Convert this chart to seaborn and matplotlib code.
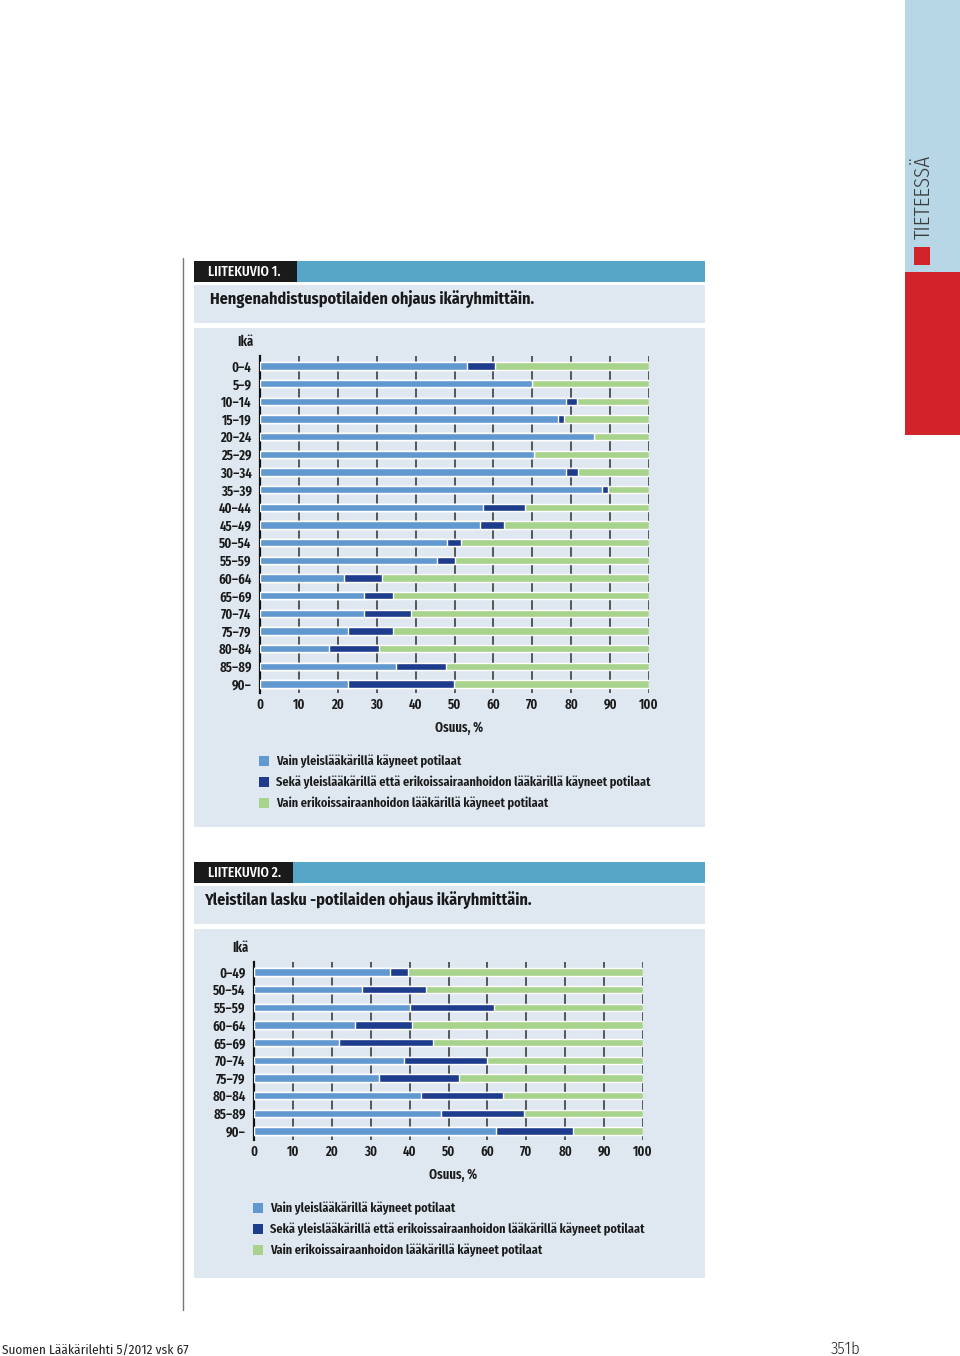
import matplotlib
matplotlib.use("Agg")
import matplotlib.pyplot as plt
import seaborn as sns
import pandas as pd
from matplotlib.patches import Rectangle
from matplotlib.lines import Line2D
from matplotlib import font_manager

sns.set_theme(style="white")

# ---------------- data ----------------
ages1 = ["0–4", "5–9", "10–14", "15–19", "20–24", "25–29", "30–34", "35–39",
         "40–44", "45–49", "50–54", "55–59", "60–64", "65–69", "70–74",
         "75–79", "80–84", "85–89", "90–"]
gp_only1 = [53.1, 70.0, 78.7, 76.6, 85.9, 70.4, 78.7, 87.9, 57.4, 56.6,
            48.1, 45.4, 21.6, 26.8, 26.7, 22.5, 17.7, 34.9, 22.5]
both1 = [7.3, 0.0, 2.9, 1.5, 0.0, 0.0, 3.0, 1.5, 10.7, 6.0,
         3.5, 4.6, 9.7, 7.4, 12.2, 11.8, 13.0, 12.9, 27.4]

ages2 = ["0–49", "50–54", "55–59", "60–64", "65–69", "70–74", "75–79",
         "80–84", "85–89", "90–"]
gp_only2 = [35.0, 27.7, 40.1, 25.9, 21.8, 38.5, 32.2, 42.9, 48.2, 62.2]
both2 = [4.7, 16.5, 21.7, 14.7, 24.1, 21.5, 20.4, 21.1, 21.1, 19.8]

series_labels = ["Vain yleislääkärillä käyneet potilaat",
                 "Sekä yleislääkärillä että erikoissairaanhoidon lääkärillä käyneet potilaat",
                 "Vain erikoissairaanhoidon lääkärillä käyneet potilaat"]
xticks = [0, 10, 20, 30, 40, 50, 60, 70, 80, 90, 100]

# ---------------- style ----------------
names = {f.name for f in font_manager.fontManager.ttflist}


def pick(*cands):
    for c in cands:
        if c in names:
            return c
    return "DejaVu Sans"


F_XC = pick("Fira Sans Extra Condensed", "Fira Sans Condensed", "Roboto Condensed")
F_C = pick("Fira Sans Condensed", "Roboto Condensed", "Fira Sans Extra Condensed")
plt.rcParams['font.family'] = [F_XC, 'DejaVu Sans']

C_LIGHT = "#6198d0"
C_DARK = "#1e3c8c"
C_GREEN = "#a8d38c"
C_PANEL = "#dfe8f1"
C_HEAD = "#57a6c8"
C_GRID = "#4a4a4a"
TEXT = "#1a1a1a"

FS_TICK = 10
FS_LEG = 9.7
FS_TITLE = 11.6

W, H = 960, 1356
fig = plt.figure(figsize=(W / 100, H / 100), dpi=100)
fig.patch.set_facecolor("white")


def fx(px):
    return px / W


def fy(py):
    return 1 - py / H


def rect(x0, y0, x1, y1, color):
    fig.add_artist(Rectangle((fx(x0), fy(y1)), fx(x1) - fx(x0), fy(y0) - fy(y1),
                             transform=fig.transFigure, facecolor=color,
                             edgecolor="none", zorder=0))


# right sidebar
rect(905, 0, 960, 272, "#b7d7e7")
rect(905, 272, 960, 435, "#d2232a")
rect(914, 247, 930, 265, "#d2232a")
fig.text(fx(923), fy(197), "TIETEESSÄ", rotation=90, ha="center", va="center",
         fontsize=16.5, color="#3a3a3a", family=[F_XC, "DejaVu Sans"], fontweight=300)

# left rule
fig.add_artist(Line2D([fx(183), fx(183)], [fy(258), fy(1310)],
                      transform=fig.transFigure, color="#777777", lw=1))

# footer
fig.text(fx(2), fy(1350), "Suomen Lääkärilehti 5/2012 vsk 67", ha="left", va="center",
         fontsize=9.5, color="#222222", family=[F_C, "DejaVu Sans"])
fig.text(fx(860), fy(1349), "351b", ha="right", va="center",
         fontsize=12, color="#222222", family=[F_C, "DejaVu Sans"], fontweight=300)


def panel(top, header, title, title_x, box_bottom, black_right):
    rect(194, top, 705, top + 21, C_HEAD)
    rect(194, top, black_right, top + 21, "#1a1a1a")
    fig.text(fx(208), fy(top + 11), header, ha="left", va="center",
             fontsize=10.6, color="white", fontweight=500)
    rect(194, top + 24, 705, top + 62, C_PANEL)
    fig.text(fx(title_x), fy(top + 38), title, ha="left", va="center",
             fontsize=FS_TITLE, fontweight="bold", color=TEXT,
             family=[F_C, "DejaVu Sans"])
    rect(194, top + 67, 705, box_bottom, C_PANEL)


def chart(ages, gp, both, left_px, top_px, first_row, last_row, bottom_px,
          xlabel_y, legend_y0, ika_y):
    n = len(ages)
    step = (last_row - first_row) / (n - 1)
    ax = fig.add_axes([fx(left_px), fy(bottom_px), fx(left_px + 389) - fx(left_px),
                       fy(top_px) - fy(bottom_px)])
    ax.set_facecolor("none")
    df = pd.DataFrame({"age": ages, "gp": gp, "both": both})
    df["cum"] = df["gp"] + df["both"]
    df["total"] = 100.0
    for col, colr in [("total", C_GREEN), ("cum", C_DARK), ("gp", C_LIGHT)]:
        sns.barplot(data=df, y="age", x=col, orient="h", color=colr,
                    width=0.4, saturation=1, ax=ax, zorder=3)
    ax.set_xlim(0, 100)
    lo = -(first_row - top_px) / step
    hi = (n - 1) + (bottom_px - last_row) / step
    ax.set_ylim(hi, lo)
    for x in xticks[1:]:
        ax.axvline(x, color=C_GRID, lw=1.3, zorder=1)
    for s in ["top", "right", "bottom"]:
        ax.spines[s].set_visible(False)
    ax.spines["left"].set_color("#111111")
    ax.spines["left"].set_linewidth(1.6)
    ax.set_xticks(xticks)
    ax.set_xticklabels([str(t) for t in xticks])
    ax.tick_params(axis="x", length=0, pad=11.5, labelsize=FS_TICK, labelcolor=TEXT)
    ax.tick_params(axis="y", length=0, pad=6, labelsize=FS_TICK, labelcolor=TEXT)
    ax.set_xlabel("")
    ax.set_ylabel("")
    for t in ax.get_xticklabels():
        t.set_verticalalignment("baseline")
    for t in ax.get_xticklabels() + ax.get_yticklabels():
        t.set_fontweight(600)
    fig.text(fx(left_px - 6), fy(ika_y), "Ikä", ha="right", va="center",
             fontsize=FS_TICK, fontweight=600, color=TEXT)
    fig.text(fx(left_px + 199), fy(xlabel_y), "Osuus, %", ha="center", va="center",
             fontsize=FS_TICK, fontweight=600, color=TEXT)
    for i, (lab, colr) in enumerate(zip(series_labels, [C_LIGHT, C_DARK, C_GREEN])):
        y = legend_y0 + 21 * i
        rect(left_px - 1, y - 5, left_px + 9, y + 5, colr)
        fig.text(fx(left_px + 16), fy(y), lab, ha="left", va="center",
                 fontsize=FS_LEG, fontweight=600, color=TEXT)
    return ax


panel(261, "LIITEKUVIO 1.", "Hengenahdistuspotilaiden ohjaus ikäryhmittäin.", 210, 827, 297)
panel(862, "LIITEKUVIO 2.", "Yleistilan lasku -potilaiden ohjaus ikäryhmittäin.", 204, 1278, 293)

chart(ages1, gp_only1, both1, 260, 356, 366, 684, 693, 728, 761, 342)
chart(ages2, gp_only2, both2, 254, 962, 972, 1131, 1140, 1175, 1208, 948)

fig.savefig("out.png", dpi=100, facecolor="white")
